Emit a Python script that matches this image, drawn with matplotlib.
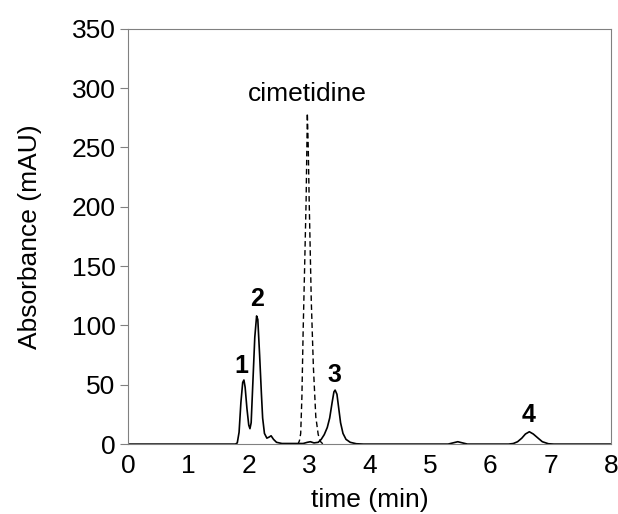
import matplotlib
matplotlib.use("Agg")
import matplotlib.pyplot as plt

plt.rcParams['font.family'] = ['Liberation Sans', 'DejaVu Sans']

# sample trace (min, mAU)
sample_time = [0.0, 1.78, 1.81, 1.84, 1.87, 1.90, 1.92, 1.94, 1.97, 2.00, 2.02,
               2.04, 2.07, 2.10, 2.13, 2.15, 2.18, 2.21, 2.23, 2.26, 2.30, 2.34,
               2.37, 2.41, 2.46, 2.55, 2.70, 2.90, 2.97, 3.02, 3.08, 3.15, 3.20,
               3.25, 3.30, 3.34, 3.38, 3.41, 3.43, 3.46, 3.49, 3.52, 3.56, 3.61,
               3.68, 3.78, 3.90, 5.30, 5.38, 5.46, 5.54, 5.62, 6.30, 6.38, 6.45,
               6.52, 6.58, 6.645, 6.71, 6.79, 6.86, 6.96, 7.05, 8.00]
sample_abs = [0, 0, 1, 10, 35, 52, 54, 48, 30, 16, 13,
              18, 54, 90, 108, 105, 75, 42, 22, 9, 5, 6,
              7, 4, 1.5, 0.5, 0.5, 0.5, 1.5, 2, 1, 1.5, 4,
              8, 14, 22, 35, 44, 45.5, 42, 30, 18, 9, 4,
              1.5, 0.3, 0, 0, 1, 2, 1, 0, 0, 0.5, 2,
              5, 8.5, 10.4, 8.5, 5, 2, 0.3, 0, 0]

# cimetidine standard (dashed)
cim_time = [2.80, 2.82, 2.84, 2.86, 2.88, 2.90, 2.925, 2.95, 2.97, 2.985,
            3.00, 3.035, 3.07, 3.11, 3.15, 3.19, 3.23]
cim_abs = [0, 0.5, 3, 9, 40, 94, 149, 206, 279, 250,
           206, 121, 65, 23, 8, 2, 0]

peak_labels = ['1', '2', '3', '4']
peak_x = [1.88, 2.14, 3.41, 6.64]
peak_y = [60, 116, 52, 18.5]

fig = plt.figure(figsize=(6.18, 5.14), dpi=100)
ax = fig.add_axes([0.207, 0.136, 0.782, 0.808])

ax.plot(sample_time, sample_abs, color='black', lw=1.2)
ax.plot(cim_time, cim_abs, color='black', lw=1.0, ls=(0, (4, 2.5)))

for lab, x, y in zip(peak_labels, peak_x, peak_y):
    ax.text(x, y, lab, ha='center', va='baseline', fontsize=18, fontweight='bold')
ax.text(2.97, 289, 'cimetidine', ha='center', va='baseline', fontsize=19)

ax.set_xlim(0, 8)
ax.set_ylim(0, 350)
ax.set_xticks(range(0, 9))
ax.set_yticks(range(0, 351, 50))
ax.tick_params(axis='x', length=0, labelsize=19, pad=7)
ax.tick_params(axis='y', length=6, labelsize=19, color='#808080', pad=3)
for s in ax.spines.values():
    s.set_color('#808080')

ax.set_xlabel('time (min)', fontsize=19, labelpad=7)
ax.set_ylabel('Absorbance (mAU)', fontsize=19, labelpad=21)

fig.savefig('out.png', dpi=100)
